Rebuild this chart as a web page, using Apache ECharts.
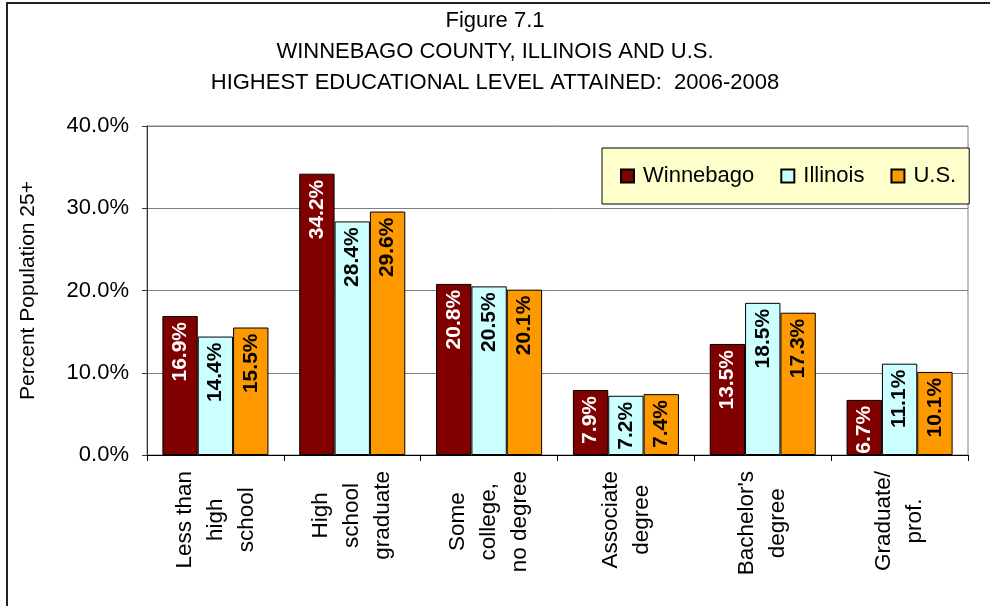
<!DOCTYPE html>
<html>
<head>
<meta charset="utf-8">
<script src="https://cdn.jsdelivr.net/npm/echarts@6/dist/echarts.min.js"></script>
<style>
  html, body { margin: 0; padding: 0; background: #fff; }
  #chart { width: 990px; height: 606px; }
</style>
</head>
<body>
<div id="chart"></div>
<script>
// categories, one array of lines per label
var categories = [
    ['Less than', 'high', 'school'],
    ['High', 'school', 'graduate'],
    ['Some', 'college,', 'no degree'],
    ['Associate', 'degree'],
    ["Bachelor's", 'degree'],
    ['Graduate/', 'prof.']
];
var seriesNames = ['Winnebago', 'Illinois', 'U.S.'];
var winnebago = [16.9, 34.2, 20.8, 7.9, 13.5, 6.7];
var illinois = [14.4, 28.4, 20.5, 7.2, 18.5, 11.1];
var us = [15.5, 29.6, 20.1, 7.4, 17.3, 10.1];
var yTicks = [0, 10, 20, 30, 40];

var colors = ['#800000', '#CCFFFF', '#FF9900'];
var labelColors = ['#fff', '#000', '#000'];
var font = 'Liberation Sans, Arial, sans-serif';

var catKeys = categories.map(function (lines) { return lines.join(' '); });

function makeSeries(name, data, i) {
    return {
        name: name,
        type: 'bar',
        data: data,
        barGap: '0%',
        barCategoryGap: '22.5%',
        itemStyle: {
            color: colors[i],
            borderColor: '#000',
            borderWidth: 1
        },
        label: {
            show: true,
            position: 'insideTop',
            distance: 6,
            rotate: 90,
            align: 'right',
            verticalAlign: 'middle',
            color: labelColors[i],
            fontFamily: font,
            fontWeight: 'bold',
            fontSize: 21,
            formatter: function (p) { return p.value.toFixed(1) + '%'; }
        }
    };
}

var chart = echarts.init(document.getElementById('chart'));
chart.setOption({
    animation: false,
    textStyle: { fontFamily: font, color: '#000' },
    title: {
        text: 'Figure 7.1\nWINNEBAGO COUNTY, ILLINOIS AND U.S.\nHIGHEST EDUCATIONAL LEVEL ATTAINED:  2006-2008',
        left: 'center',
        top: 0,
        textStyle: {
            fontFamily: font,
            fontWeight: 'normal',
            fontSize: 22,
            lineHeight: 31,
            color: '#000'
        }
    },
    graphic: [{
        type: 'rect',
        shape: { x: 7, y: 3, width: 1000, height: 640 },
        style: { fill: 'none', stroke: '#222', lineWidth: 2 },
        silent: true
    }],
    legend: {
        data: seriesNames,
        left: 602,
        top: 148,
        orient: 'horizontal',
        padding: [17, 13, 17, 18],
        itemGap: 26,
        itemWidth: 13,
        itemHeight: 13,
        icon: 'rect',
        backgroundColor: '#FFFFCC',
        borderColor: '#000',
        borderWidth: 1,
        textStyle: {
            fontFamily: font,
            fontSize: 22,
            color: '#000',
            padding: [0, 0, 0, 4]
        }
    },
    grid: {
        left: 147,
        right: 22,
        top: 126,
        bottom: 151,
        show: true,
        borderColor: '#808080',
        borderWidth: 1,
        backgroundColor: '#fff'
    },
    xAxis: {
        type: 'category',
        data: catKeys,
        axisLine: { lineStyle: { color: '#000', width: 1 } },
        axisTick: { show: true, length: 6, lineStyle: { color: '#000' } },
        axisLabel: {
            interval: 0,
            rotate: 90,
            margin: 16,
            fontFamily: font,
            fontSize: 22.5,
            color: '#000',
            formatter: function (v, idx) {
                return categories[idx].map(function (s) { return '{c|' + s + '}'; }).join('\n');
            },
            rich: {
                c: {
                    align: 'center',
                    fontFamily: font,
                    fontSize: 22.5,
                    lineHeight: 31,
                    color: '#000'
                }
            }
        }
    },
    yAxis: {
        type: 'value',
        min: yTicks[0],
        max: yTicks[yTicks.length - 1],
        interval: 10,
        name: 'Percent Population 25+',
        nameLocation: 'middle',
        nameGap: 108,
        nameTextStyle: { fontFamily: font, fontSize: 21, color: '#000' },
        axisLine: { show: true, lineStyle: { color: '#333', width: 1 } },
        axisTick: { show: true, length: 5, lineStyle: { color: '#333' } },
        axisLabel: {
            margin: 18,
            fontFamily: font,
            fontSize: 22,
            color: '#000',
            formatter: function (v) { return v.toFixed(1) + '%'; }
        },
        splitLine: { show: true, lineStyle: { color: '#808080', width: 1 } }
    },
    series: [
        makeSeries(seriesNames[0], winnebago, 0),
        makeSeries(seriesNames[1], illinois, 1),
        makeSeries(seriesNames[2], us, 2)
    ]
});
</script>
</body>
</html>
